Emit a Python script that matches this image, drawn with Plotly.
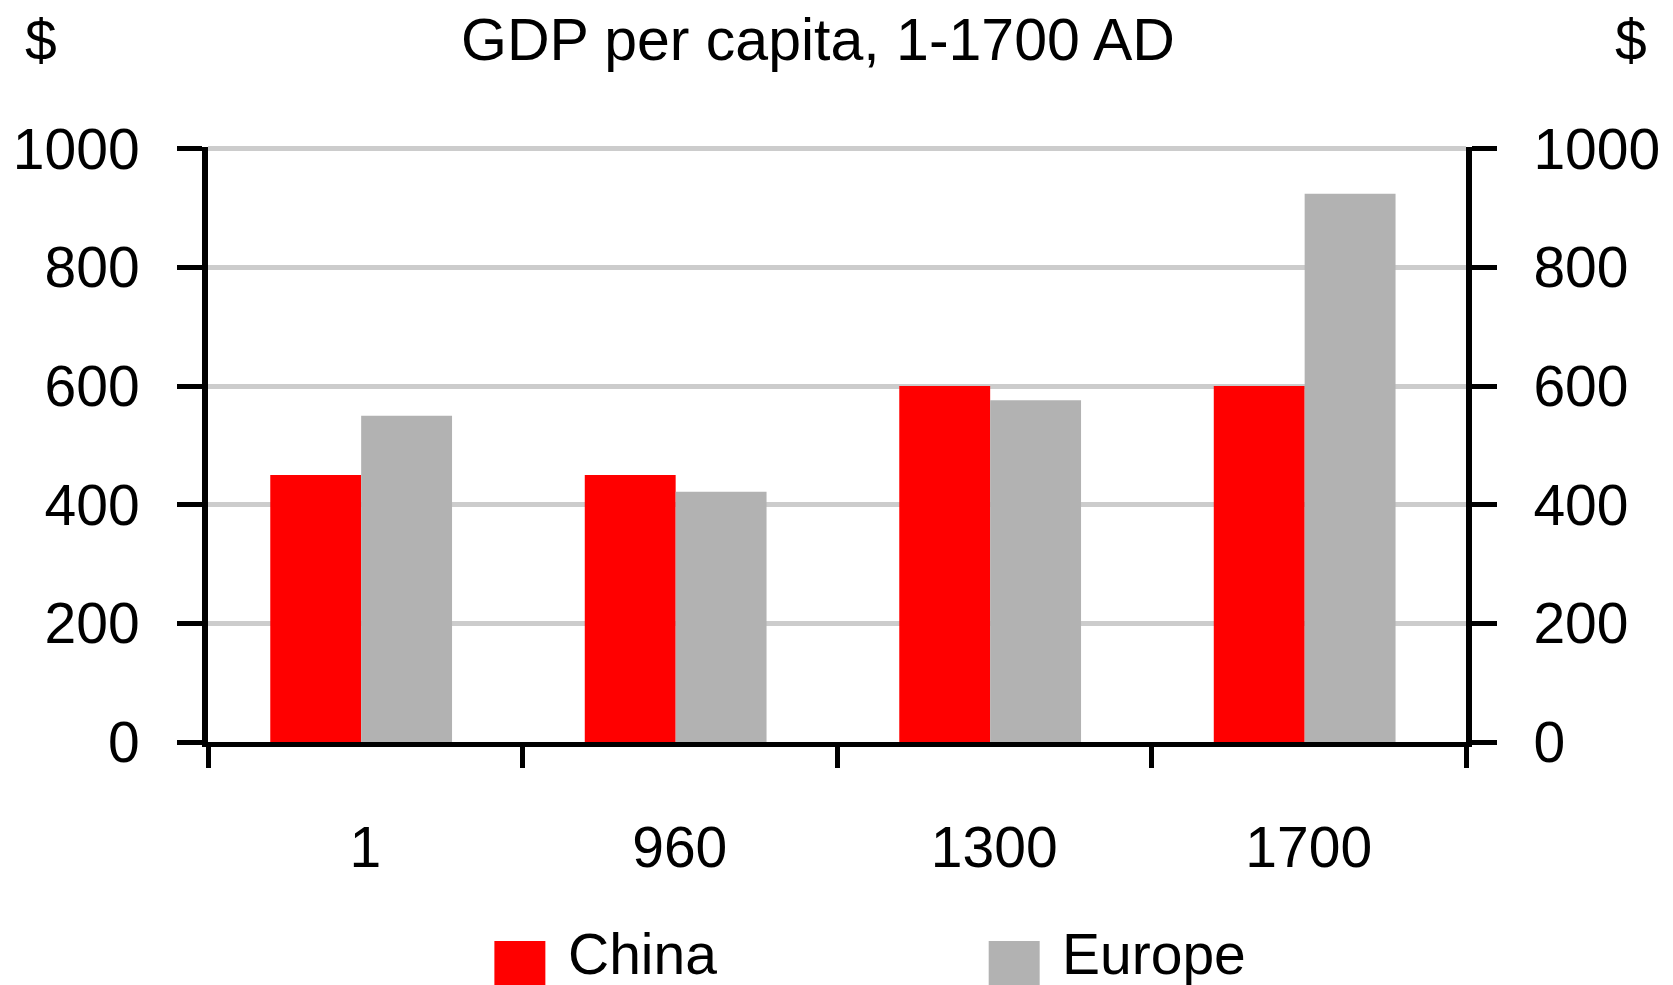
import plotly.graph_objects as go

# ---- data ----
years = ["1", "960", "1300", "1700"]
china = [450, 450, 600, 600]
europe = [550, 422, 576, 924]
series_names = ["China", "Europe"]
y_ticks = [0, 200, 400, 600, 800, 1000]
title_text = "GDP per capita, 1-1700 AD"
unit_text = "$"

# ---- style ----
RED = "#ff0000"
GREY = "#b2b2b2"
GRID = "#cccccc"
W, H = 1673, 985
OFF = 8  # page offset of the figure inside the browser window
L, R, T, B = 200, 214.5, 139.2, 251
FS = 57
FONT = dict(family="Liberation Sans, Arial, sans-serif", size=FS, color="black")
TITLE_FONT = dict(FONT, size=59)
PW, PH = W - L - R, H - T - B
BAR_W = 0.289


def px_x(p):
    return (p - OFF - L) / PW


def px_y(p):
    return (H - B - (p - OFF)) / PH


fig = go.Figure()
fig.add_bar(x=years, y=china, name=series_names[0], width=BAR_W, offset=-0.302,
            marker=dict(color=RED, line=dict(width=0)), showlegend=False, hoverinfo="x+y")
fig.add_bar(x=years, y=europe, name=series_names[1], width=BAR_W, offset=-0.302 + BAR_W,
            marker=dict(color=GREY, line=dict(width=0)), showlegend=False, hoverinfo="x+y")
# invisible trace to activate the right-hand axis
fig.add_scatter(x=years, y=europe, yaxis="y2", mode="none", showlegend=False, hoverinfo="skip")

axis_common = dict(
    range=[0, 1003], tickvals=y_ticks, ticks="outside", ticklen=25, tickwidth=5,
    tickcolor="black", showline=True, linewidth=6, linecolor="black",
    zeroline=False, tickfont=FONT, fixedrange=True, automargin=False,
)

fig.update_layout(
    width=W, height=H,
    margin=dict(l=L, r=R, t=T, b=B, pad=0, autoexpand=False),
    paper_bgcolor="white", plot_bgcolor="white",
    barmode="overlay",
    font=FONT,
    showlegend=False,
    xaxis=dict(
        type="category", tickson="boundaries", ticks="outside", ticklen=21, tickwidth=5,
        tickcolor="black", showline=True, linewidth=5, linecolor="black", showgrid=False,
        tickfont=FONT, ticklabelstandoff=52, fixedrange=True, automargin=False,
        range=[-0.5, len(years) - 0.5],
    ),
    yaxis=dict(**axis_common, showgrid=True, gridcolor=GRID, gridwidth=4.5, ticklabelstandoff=26),
    yaxis2=dict(**axis_common, overlaying="y", side="right", showgrid=False, ticklabelstandoff=25),
)

annotations = [
    dict(text=title_text, x=px_x(818.6), y=px_y(40.5), xanchor="center", yanchor="middle", font=TITLE_FONT),
    dict(text=unit_text, x=px_x(40.6), y=px_y(40.5), xanchor="center", yanchor="middle", font=FONT),
    dict(text=unit_text, x=px_x(1632), y=px_y(40.5), xanchor="center", yanchor="middle", font=FONT),
]
# legend (drawn manually so the swatches can be large)
legend_items = [(series_names[0], RED, 494.5, 566), (series_names[1], GREY, 989, 1060.5)]
shapes = []
for name, col, bx, tx in legend_items:
    shapes.append(dict(type="rect", xref="paper", yref="paper", x0=px_x(bx), x1=px_x(bx + 51),
                       y0=px_y(941), y1=px_y(1005), fillcolor=col, line=dict(width=0)))
    annotations.append(dict(text=name, x=px_x(tx), y=px_y(953.5), xanchor="left", yanchor="middle",
                            font=FONT))

for a in annotations:
    a.update(xref="paper", yref="paper", showarrow=False)

fig.update_layout(annotations=annotations, shapes=shapes)

fig.write_html("out.html")
